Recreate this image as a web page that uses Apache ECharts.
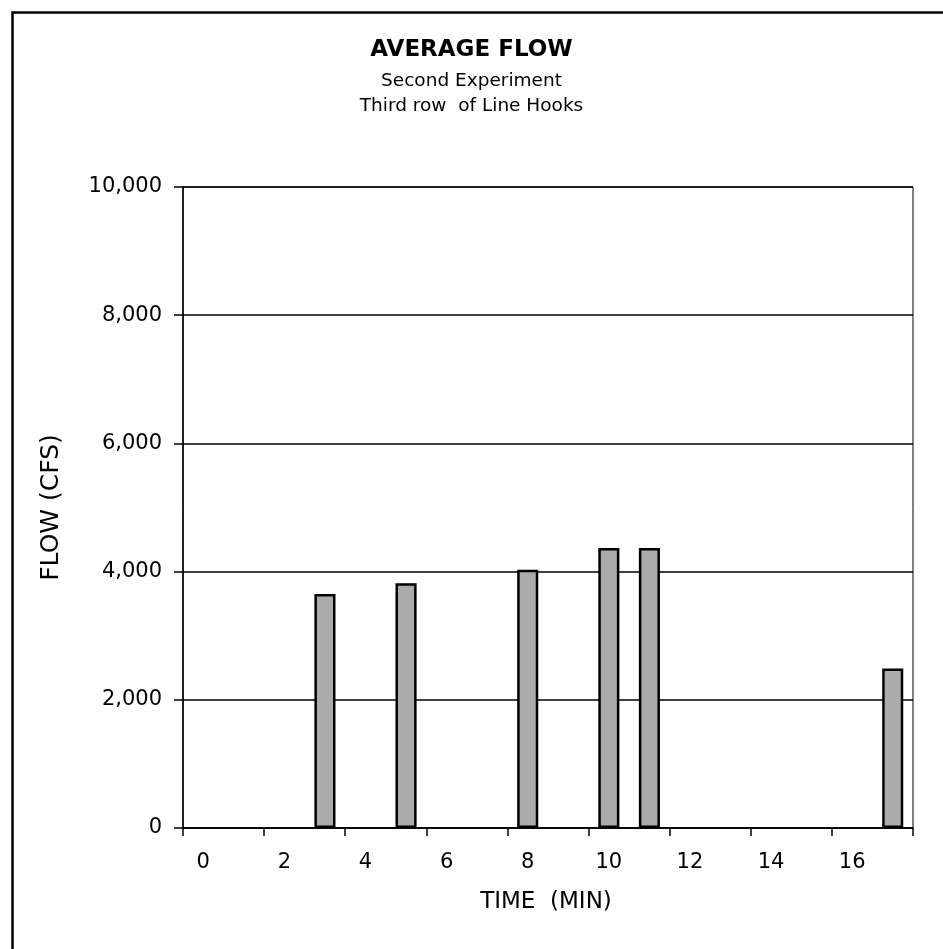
<!DOCTYPE html>
<html>
<head>
<meta charset="utf-8">
<script src="https://cdn.jsdelivr.net/npm/echarts@6/dist/echarts.min.js"></script>
<style>
html,body{margin:0;padding:0;background:#fff;}
#chart{width:943px;height:949px;}
</style>
</head>
<body>
<div id="chart"></div>
<script>
const categories = ['0','1','2','3','4','5','6','7','8','9','10','11','12','13','14','15','16','17'];
const flowValues = [null, null, null, 3650, null, 3820, null, null, 4030, null, 4370, 4370, null, null, null, null, null, 2490];
const yTicks = [0, 2000, 4000, 6000, 8000, 10000];

const chart = echarts.init(document.getElementById('chart'));
const font = '"DejaVu Sans", "Liberation Sans", Arial, sans-serif';
chart.setOption({
  animation: false,
  backgroundColor: '#fff',
  graphic: [{
    type: 'rect', left: 10, top: 10,
    shape: { width: 1000, height: 1000 },
    style: { fill: 'none', stroke: '#000', lineWidth: 2.5 }
  }],
  title: [
    { text: 'AVERAGE FLOW', left: 'center', top: 34, textStyle: { fontFamily: font, fontSize: 23, fontWeight: 'bold', color: '#000' } },
    { text: 'Second Experiment', left: 'center', top: 67, textStyle: { fontFamily: font, fontSize: 18.5, fontWeight: 'normal', color: '#000' } },
    { text: 'Third row  of Line Hooks', left: 'center', top: 92, textStyle: { fontFamily: font, fontSize: 18.5, fontWeight: 'normal', color: '#000' } }
  ],
  grid: { left: 183, right: 30, top: 187, bottom: 121, show: true, borderColor: '#000', borderWidth: 1, backgroundColor: 'transparent' },
  xAxis: {
    type: 'category',
    data: categories,
    name: 'TIME  (MIN)',
    nameLocation: 'middle',
    nameGap: 63,
    nameTextStyle: { fontFamily: font, fontSize: 23, color: '#000', padding: [0, 4, 0, 0] },
    axisLine: { lineStyle: { color: '#000', width: 1.5 } },
    axisTick: { show: true, alignWithLabel: false, interval: 1, length: 8, lineStyle: { color: '#000', width: 1.5 } },
    axisLabel: { interval: 1, margin: 24, fontFamily: font, fontSize: 21, color: '#000' },
    splitLine: { show: false }
  },
  yAxis: {
    type: 'value',
    min: yTicks[0], max: yTicks[yTicks.length - 1], interval: 2000,
    name: 'FLOW (CFS)',
    nameLocation: 'middle',
    nameGap: 119,
    nameRotate: 90,
    nameTextStyle: { fontFamily: font, fontSize: 25, color: '#000' },
    axisLine: { show: true, lineStyle: { color: '#000', width: 1.5 } },
    axisTick: { show: true, length: 9, lineStyle: { color: '#000', width: 1.5 } },
    axisLabel: { margin: 21, fontFamily: font, fontSize: 21, color: '#000',
      formatter: v => v.toLocaleString('en-US') },
    splitLine: { show: true, lineStyle: { color: '#000', width: 1.5 } }
  },
  series: [{
    type: 'bar',
    data: flowValues,
    barWidth: '52%',
    itemStyle: { color: '#ababab', borderColor: '#000', borderWidth: 2.5 }
  }]
});
</script>
</body>
</html>
